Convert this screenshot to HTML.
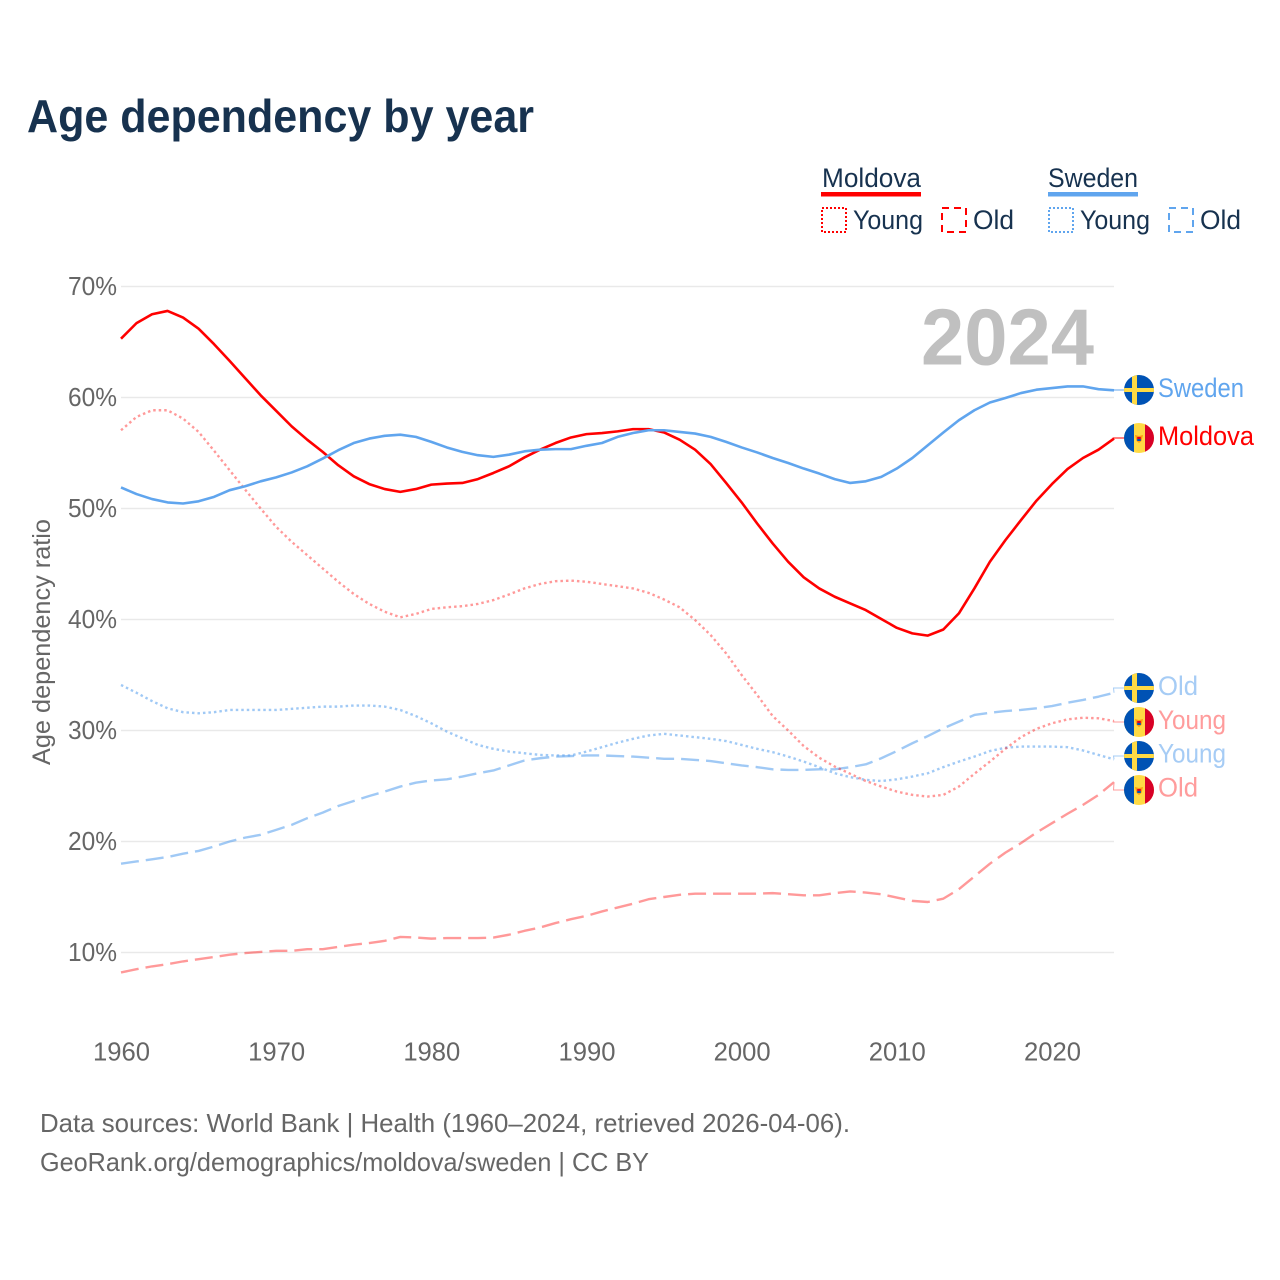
<!DOCTYPE html>
<html lang="en">
<head>
<meta charset="utf-8">
<title>Age dependency by year</title>
<style>
html,body{margin:0;padding:0;background:#fff;}
svg{display:block;font-family:"Liberation Sans",sans-serif;}
</style>
</head>
<body>
<svg id="chart" width="1280" height="1280" viewBox="0 0 1280 1280" xmlns="http://www.w3.org/2000/svg">
  <defs><clipPath id="flag-clip"><circle cx="0" cy="0" r="15"></circle></clipPath></defs>
  <rect width="1280" height="1280" fill="#fff"></rect>
  <text x="27" y="132" font-size="46" font-weight="bold" fill="#17324f" textLength="507" lengthAdjust="spacingAndGlyphs">Age dependency by year</text>

  <g font-size="27" fill="#17324f">
    <text x="822" y="187" textLength="99" lengthAdjust="spacingAndGlyphs">Moldova</text>
    <rect x="821" y="192" width="100" height="4.5" fill="#ff0000"></rect>
    <rect x="822" y="208" width="24" height="24" fill="none" stroke="#ff0000" stroke-width="2" stroke-dasharray="2 2"></rect>
    <text x="853" y="229" textLength="70" lengthAdjust="spacingAndGlyphs">Young</text>
    <rect x="942" y="208" width="24" height="24" fill="none" stroke="#ff0000" stroke-width="2" stroke-dasharray="7 5"></rect>
    <text x="973" y="229" textLength="41" lengthAdjust="spacingAndGlyphs">Old</text>
    <text x="1048" y="187" textLength="90" lengthAdjust="spacingAndGlyphs">Sweden</text>
    <rect x="1048" y="192" width="90" height="4.5" fill="#60a5ee"></rect>
    <rect x="1049" y="208" width="24" height="24" fill="none" stroke="#60a5ee" stroke-width="2" stroke-dasharray="2 2"></rect>
    <text x="1080" y="229" textLength="70" lengthAdjust="spacingAndGlyphs">Young</text>
    <rect x="1169" y="208" width="24" height="24" fill="none" stroke="#60a5ee" stroke-width="2" stroke-dasharray="7 5"></rect>
    <text x="1200" y="229" textLength="41" lengthAdjust="spacingAndGlyphs">Old</text>
  </g>

  <g id="grid"></g>
  <g id="yticks"></g>
  <g id="xticks"></g>
  <text transform="translate(50,642) rotate(-90)" text-anchor="middle" font-size="25" fill="#666" textLength="246" lengthAdjust="spacingAndGlyphs">Age dependency ratio</text>
  <text x="921" y="364.5" font-size="80" font-weight="bold" fill="#c0c0c0" textLength="173" lengthAdjust="spacingAndGlyphs">2024</text>
  <g id="series"></g>
  <g id="endlabels"></g>

  <text x="40" y="1132" font-size="26" fill="#666" textLength="810" lengthAdjust="spacingAndGlyphs">Data sources: World Bank | Health (1960–2024, retrieved 2026-04-06).</text>
  <text x="40" y="1171" font-size="26" fill="#666" textLength="609" lengthAdjust="spacingAndGlyphs">GeoRank.org/demographics/moldova/sweden | CC BY</text>
</svg>
<script>
const startYear = 1960;
const yTickValues = [10, 20, 30, 40, 50, 60, 70];
const xTickValues = [1960, 1970, 1980, 1990, 2000, 2010, 2020];

const moldovaTotal = [65.3,66.7,67.5,67.8,67.2,66.2,64.8,63.3,61.75,60.2,58.8,57.4,56.2,55.1,53.9,52.9,52.2,51.75,51.5,51.75,52.15,52.25,52.3,52.65,53.2,53.8,54.6,55.3,55.9,56.4,56.7,56.8,56.95,57.15,57.15,56.85,56.2,55.3,54.0,52.3,50.55,48.65,46.85,45.2,43.8,42.8,42.05,41.45,40.85,40.05,39.25,38.75,38.55,39.1,40.55,42.8,45.2,47.15,48.95,50.7,52.2,53.55,54.55,55.3,56.3];
const swedenTotal = [51.9,51.3,50.85,50.55,50.45,50.65,51.05,51.65,52.0,52.45,52.8,53.25,53.8,54.5,55.25,55.9,56.3,56.55,56.65,56.45,56.0,55.5,55.1,54.8,54.65,54.85,55.15,55.3,55.35,55.35,55.65,55.9,56.45,56.8,57.05,57.05,56.9,56.75,56.45,56.0,55.5,55.05,54.55,54.1,53.6,53.15,52.65,52.3,52.45,52.85,53.6,54.55,55.7,56.85,57.95,58.85,59.55,59.95,60.4,60.7,60.85,61.0,61.0,60.75,60.65];
const moldovaYoung = [57.05,58.25,58.85,58.85,58.1,56.9,55.2,53.45,51.7,50.0,48.35,47.0,45.8,44.6,43.4,42.3,41.4,40.7,40.2,40.5,40.95,41.1,41.2,41.4,41.75,42.25,42.8,43.2,43.45,43.5,43.4,43.2,43.0,42.8,42.4,41.8,41.1,39.95,38.6,36.95,35.0,33.2,31.3,30.0,28.6,27.55,26.75,26.1,25.45,24.95,24.5,24.2,24.05,24.2,24.95,26.1,27.2,28.35,29.4,30.15,30.65,31.0,31.15,31.1,30.85];
const moldovaOld = [8.2,8.5,8.75,8.95,9.2,9.4,9.6,9.8,9.95,10.05,10.15,10.15,10.3,10.3,10.5,10.7,10.85,11.05,11.4,11.35,11.25,11.3,11.3,11.3,11.35,11.6,11.95,12.25,12.65,13.0,13.3,13.7,14.05,14.4,14.8,15.0,15.2,15.3,15.3,15.3,15.3,15.3,15.35,15.25,15.15,15.15,15.35,15.5,15.4,15.25,14.95,14.65,14.55,14.85,15.7,16.85,18.0,19.0,19.85,20.8,21.65,22.5,23.3,24.2,25.35];
const swedenYoung = [34.1,33.4,32.65,32.0,31.65,31.55,31.65,31.85,31.85,31.85,31.85,31.95,32.05,32.15,32.15,32.25,32.25,32.15,31.85,31.3,30.65,29.9,29.3,28.7,28.35,28.1,27.95,27.8,27.75,27.75,28.1,28.5,28.9,29.25,29.55,29.7,29.55,29.4,29.25,29.05,28.7,28.35,28.05,27.65,27.2,26.7,26.15,25.8,25.55,25.45,25.6,25.85,26.15,26.7,27.2,27.65,28.15,28.45,28.55,28.55,28.55,28.5,28.2,27.8,27.4];
const swedenOld = [18.0,18.2,18.4,18.6,18.9,19.15,19.55,20.0,20.35,20.6,21.05,21.5,22.1,22.6,23.2,23.65,24.1,24.5,24.95,25.3,25.5,25.6,25.85,26.15,26.4,26.85,27.3,27.5,27.65,27.7,27.75,27.75,27.7,27.65,27.55,27.45,27.45,27.35,27.25,27.05,26.85,26.7,26.5,26.45,26.45,26.5,26.5,26.7,26.95,27.5,28.15,28.85,29.5,30.2,30.8,31.4,31.6,31.75,31.85,32.0,32.2,32.5,32.75,33.05,33.4];

const NS = 'http://www.w3.org/2000/svg';
const xScale = function (year) { return 121 + (year - startYear) * 15.516; };
const yScale = function (value) { return 952.5 - (value - 10) * 11.1; };

function make(tag, parent, attrs, text) {
  const el = document.createElementNS(NS, tag);
  Object.keys(attrs).forEach(function (k) { el.setAttribute(k, attrs[k]); });
  if (text !== undefined) el.textContent = text;
  parent.appendChild(el);
  return el;
}

const gridG = document.getElementById('grid');
const yG = document.getElementById('yticks');
yTickValues.forEach(function (v) {
  const line = make('line', gridG, {x1: 121, x2: 1114, y1: yScale(v), y2: yScale(v), stroke: '#e9e9e9', 'stroke-width': 1.5});
  
  
  const label = make('text', yG, {x: 68, y: yScale(v) + 8.5, 'font-size': 26, fill: '#666', textLength: 49, lengthAdjust: 'spacingAndGlyphs'}, v + '%');
  
  
});

const xG = document.getElementById('xticks');
xTickValues.forEach(function (year) {
  const label = make('text', xG, {x: xScale(year) - 28, y: 1060.5, 'font-size': 26, fill: '#666', textLength: 57, lengthAdjust: 'spacingAndGlyphs'}, String(year));
  
  
});

const seriesG = document.getElementById('series');
function drawSeries(name, values, color, width, dash, opacity) {
  const pts = values.map(function (v, i) {
    return xScale(startYear + i).toFixed(2) + ',' + yScale(v).toFixed(2);
  }).join(' ');
  const attrs = {points: pts, fill: 'none', stroke: color, 'stroke-width': width, 'stroke-linejoin': 'round', opacity: opacity};
  if (dash) attrs['stroke-dasharray'] = dash;
  const line = make('polyline', seriesG, attrs);
  
  
}
const RED = '#ff0000';
const BLUE = '#60a5ee';
drawSeries('moldova-old-line', moldovaOld, RED, 2.4, '18 7', 0.4);
drawSeries('sweden-old-line', swedenOld, BLUE, 2.4, '18 7', 0.6);
drawSeries('sweden-young-line', swedenYoung, BLUE, 2.4, '2.5 3', 0.6);
drawSeries('moldova-young-line', moldovaYoung, RED, 2.4, '2.5 3', 0.4);
drawSeries('moldova-total-line', moldovaTotal, RED, 2.6, '', 1);
drawSeries('sweden-total-line', swedenTotal, BLUE, 2.6, '', 1);

function drawFlag(parent, kind, cy) {
  const outer = make('g', parent, {transform: 'translate(1139,' + cy + ')'});
  
  
  const g = make('g', outer, {'clip-path': 'url(#flag-clip)'});
  if (kind === 'sweden') {
    make('rect', g, {x: -15, y: -15, width: 30, height: 30, fill: '#0052b4'});
    make('rect', g, {x: -7, y: -15, width: 5, height: 30, fill: '#ffda44'});
    make('rect', g, {x: -15, y: -2, width: 30, height: 4, fill: '#ffda44'});
  } else {
    make('rect', g, {x: -15, y: -15, width: 30, height: 30, fill: '#ffda44'});
    make('rect', g, {x: -15, y: -15, width: 10, height: 30, fill: '#0052b4'});
    make('rect', g, {x: 6, y: -15, width: 9, height: 30, fill: '#d80027'});
    make('path', g, {d: 'M-4 -3 L0 -2 L4 -3 L2.5 3 L0 5 L-2.5 3 Z', fill: '#ff9811'});
    make('rect', g, {x: -1.8, y: -1, width: 3.6, height: 2, fill: '#d80027'});
    make('rect', g, {x: -1.8, y: 1, width: 3.6, height: 2, fill: '#0052b4'});
  }
}

const endLabels = document.getElementById('endlabels');
function drawEnd(name, kind, text, color, textWidth, values, flagY, textY) {
  const yEnd = yScale(values[values.length - 1]);
  const x0 = xScale(2024);
  const leader = make('polyline', endLabels, {points: x0 + ',' + yEnd + ' ' + (x0 - 0.5) + ',' + flagY + ' 1124,' + flagY, fill: 'none', stroke: color, 'stroke-width': 1});
  
  
  drawFlag(endLabels, kind, flagY);
  const label = make('text', endLabels, {x: 1158, y: textY, 'font-size': 27, fill: color, textLength: textWidth, lengthAdjust: 'spacingAndGlyphs'}, text);
  
  
}
drawEnd('sweden-total', 'sweden', 'Sweden', '#60a5ee', 86, swedenTotal, 390, 397);
drawEnd('moldova-total', 'moldova', 'Moldova', '#ff0000', 96, moldovaTotal, 438, 445);
drawEnd('sweden-old', 'sweden', 'Old', '#a6ccf5', 40, swedenOld, 688, 695);
drawEnd('moldova-young', 'moldova', 'Young', '#ff9c9c', 68, moldovaYoung, 722, 729);
drawEnd('sweden-young', 'sweden', 'Young', '#a6ccf5', 68, swedenYoung, 756, 762.5);
drawEnd('moldova-old', 'moldova', 'Old', '#ff9c9c', 40, moldovaOld, 790, 796.5);
</script>
</body>
</html>
